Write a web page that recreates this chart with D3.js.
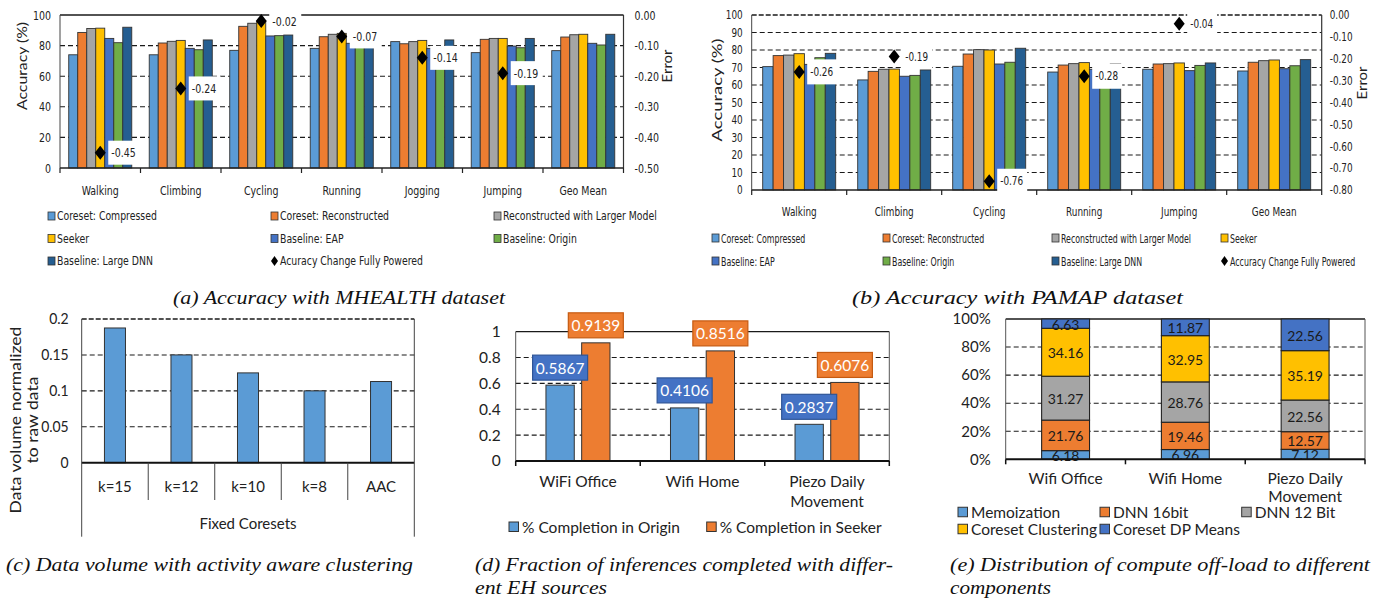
<!DOCTYPE html>
<html><head><meta charset="utf-8">
<script src="https://cdn.jsdelivr.net/npm/d3@7"></script>
<style>body{margin:0;background:#fff} svg{display:block}</style>
</head><body>
<script>
// ---------------- data ----------------
const accSeries = ["Coreset: Compressed","Coreset: Reconstructed","Reconstructed with Larger Model","Seeker","Baseline: EAP","Baseline: Origin","Baseline: Large DNN"];

const mhealthCats = ["Walking","Climbing","Cycling","Running","Jogging","Jumping","Geo Mean"];
const mhCompressed    = [74, 74, 76.9, 78.2, 82.6, 75.4, 76.7];
const mhReconstructed = [88.6, 81.7, 92.6, 85.8, 81.2, 84.1, 85.6];
const mhLarger        = [91.2, 82.8, 94.6, 87.4, 82.6, 84.7, 87.1];
const mhSeeker        = [91.4, 83.4, 96, 88, 83.4, 84.7, 87.4];
const mhEAP           = [84.7, 78.2, 86.3, 81.5, 78.2, 79.7, 81.5];
const mhOrigin        = [81.9, 77.3, 86.5, 80, 76, 78.6, 80.4];
const mhLargeDNN      = [92, 83.7, 86.9, 83, 83.7, 84.7, 87.4];
const mhErr           = [-0.45, -0.24, -0.02, -0.07, -0.14, -0.19, null];
const mhAccTicks = [0, 20, 40, 60, 80, 100];
const mhErrTicks = [0, -0.1, -0.2, -0.3, -0.4, -0.5];

const pamapCats = ["Walking","Climbing","Cycling","Running","Jumping","Geo Mean"];
const paCompressed    = [70.5, 62.9, 70.7, 67.4, 69, 68];
const paReconstructed = [76.8, 67.8, 77.7, 71.4, 72, 73];
const paLarger        = [77.1, 69, 80.2, 72.2, 72.2, 73.9];
const paSeeker        = [77.9, 69.1, 80, 72.8, 72.6, 74.3];
const paEAP           = [71.8, 65, 72, 69, 68.2, 69.3];
const paOrigin        = [75.6, 65.5, 73, 71, 71.2, 71];
const paLargeDNN      = [78.1, 68.6, 81, 72, 72.6, 74.5];
const paErr           = [-0.26, -0.19, -0.76, -0.28, -0.04, null];
const paAccTicks = [0,10,20,30,40,50,60,70,80,90,100];
const paErrTicks = [0,-0.1,-0.2,-0.3,-0.4,-0.5,-0.6,-0.7,-0.8];

const coresetCats = ["k=15","k=12","k=10","k=8","AAC"];
const coresetVolume = [0.1875, 0.15, 0.125, 0.1, 0.113];
const coresetTicks = [0, 0.05, 0.1, 0.15, 0.2];

const ehCats = ["WiFi Office","Wifi Home","Piezo Daily Movement"];
const completionOrigin = [0.5867, 0.4106, 0.2837];
const completionSeeker = [0.9139, 0.8516, 0.6076];
const completionTicks = [0, 0.2, 0.4, 0.6, 0.8, 1];

const offCats = ["Wifi Office","Wifi Home","Piezo Daily Movement"];
const offSeries = ["Memoization","DNN 16bit","DNN 12 Bit","Coreset Clustering","Coreset DP Means"];
const offMemo    = [6.18, 6.96, 7.12];
const offDnn16   = [21.76, 19.46, 12.57];
const offDnn12   = [31.27, 28.76, 22.56];
const offCluster = [34.16, 32.95, 35.19];
const offDP      = [6.63, 11.87, 22.56];
const offTicks = [0, 20, 40, 60, 80, 100];

// ---------------- styles ----------------
const accColors = ["#5B9BD5","#ED7D31","#A5A5A5","#FFC000","#4472C4","#70AD47","#255E91"];
const offColors = ["#5B9BD5","#ED7D31","#A5A5A5","#FFC000","#4472C4"];
const NARROW = "'Liberation Sans Narrow','Arial Narrow','DejaVu Sans Condensed','DejaVu Sans',sans-serif";
const CAL = "Lato,'Open Sans',sans-serif";
const SERIF = "'Liberation Serif','Times New Roman',serif";
const GRID = "#1a1a1a";

const svg = d3.select("body").append("svg").attr("width",1385).attr("height",602);

function diamond(cx, cy, w, h){ return `M${cx},${cy-h}L${cx+w},${cy}L${cx},${cy+h}L${cx-w},${cy}Z`; }
function lines(s){ const w = s.split(" "); return w.length > 2 ? [w.slice(0,2).join(" "), w.slice(2).join(" ")] : [s]; }
function condense(sel, f){
  sel.each(function(){ const n = this.getComputedTextLength(); d3.select(this).attr("textLength", n*f).attr("lengthAdjust","spacingAndGlyphs"); });
}
function rotTitle(g, txt, x, y, len, size, font){
  g.append("text").attr("transform",`translate(${x},${y}) rotate(-90)`)
   .attr("text-anchor","middle").attr("dominant-baseline","central")
   .attr("font-family",font).attr("font-size",size).attr("fill","#222")
   .attr("textLength",len).attr("lengthAdjust","spacingAndGlyphs").text(txt);
}
function caption(lineArr){
  lineArr.forEach(c=>{
    svg.append("text").attr("x",c[1]).attr("y",c[2]).attr("font-family",SERIF)
      .attr("font-style","italic").attr("font-size",18).attr("fill","#111")
      .attr("textLength",c[3]).attr("lengthAdjust","spacingAndGlyphs").text(c[0]);
  });
}
function hgrid(g, y, vals, x0, x1, dash, w){
  g.selectAll(null).data(vals).join("line")
   .attr("x1",x0).attr("x2",x1).attr("y1",d=>y(d)).attr("y2",d=>y(d))
   .attr("stroke",GRID).attr("stroke-width",w||1.1).attr("stroke-dasharray",dash);
}

// ---------------- grouped accuracy panels ----------------
function accuracyPanel(c){
  const g = svg.append("g");
  const x = d3.scaleBand().domain(c.cats).range([c.x0,c.x1]);
  const xi = d3.scaleBand().domain(d3.range(c.series.length)).range([0,x.bandwidth()]).paddingInner(0).paddingOuter(c.po);
  const y = d3.scaleLinear().domain([0,100]).range([c.y1,c.y0]);
  const yr = d3.scaleLinear().domain(c.errDomain).range([c.y1,c.y0]);

  hgrid(g, y, c.accTicks.filter(t=>t>0 && t<100), c.x0, c.x1, "5,3");
  hgrid(g, y, [100], c.x0, c.x1, c.topDash, c.topDash ? 1.6 : 1.3);

  c.series.forEach((vals,si)=>{
    g.selectAll(null).data(vals).join("rect")
     .attr("x",(d,i)=>x(c.cats[i])+xi(si)).attr("width",xi.bandwidth())
     .attr("y",d=>y(d)).attr("height",d=>c.y1-y(d))
     .attr("fill",accColors[si]).attr("stroke","#333").attr("stroke-width",0.9);
  });

  g.append("line").attr("x1",c.x0).attr("x2",c.x0).attr("y1",c.y0).attr("y2",c.y1).attr("stroke","#444").attr("stroke-width",1);
  g.append("line").attr("x1",c.x1).attr("x2",c.x1).attr("y1",c.y0).attr("y2",c.y1).attr("stroke","#333").attr("stroke-width",1.2);
  g.append("line").attr("x1",c.x0).attr("x2",c.x1).attr("y1",c.y1).attr("y2",c.y1).attr("stroke","#222").attr("stroke-width",1.3);
  const bounds = c.cats.map(d=>x(d)).concat([c.x1]);
  g.selectAll(null).data(bounds).join("line").attr("x1",d=>d).attr("x2",d=>d)
   .attr("y1",c.y1).attr("y2",c.y1+5).attr("stroke","#222").attr("stroke-width",1.2);

  const la = g.append("g").attr("transform",`translate(${c.x0},0)`)
    .call(d3.axisLeft(y).tickValues(c.accTicks).tickSize(0).tickPadding(c.lpad).tickFormat(d3.format("d")));
  la.select(".domain").remove();
  la.selectAll("text").attr("font-family",NARROW).attr("font-size",c.fs).attr("fill","#222").call(condense, c.f);
  const ra = g.append("g").attr("transform",`translate(${c.x1},0)`)
    .call(d3.axisRight(yr).tickValues(c.errTicks).tickSize(0).tickPadding(c.rpad).tickFormat(d=>d.toFixed(2)));
  ra.select(".domain").remove();
  ra.selectAll("text").attr("font-family",NARROW).attr("font-size",c.fs).attr("fill","#222").call(condense, c.f);

  g.selectAll(null).data(c.cats).join("text")
   .attr("x",d=>x(d)+x.bandwidth()/2).attr("y",c.y1+c.xlab).attr("text-anchor","middle")
   .attr("font-family",NARROW).attr("font-size",c.fs).attr("fill","#222").text(d=>d).call(condense, c.f);

  const seekerIdx = 3;
  const pts = c.err.map((e,i)=>({e, cx:x(c.cats[i])+xi(seekerIdx)+xi.bandwidth()/2})).filter(d=>d.e!==null);
  g.selectAll(null).data(pts).join("rect")
   .attr("x",d=>d.cx+8).attr("y",d=>yr(d.e)-c.boxH/2).attr("width",c.boxW).attr("height",c.boxH).attr("fill","#fff");
  g.selectAll(null).data(pts).join("text")
   .attr("x",d=>d.cx+11).attr("y",d=>yr(d.e)).attr("dominant-baseline","central")
   .attr("font-family",NARROW).attr("font-size",c.fs).attr("fill","#222").text(d=>d.e.toFixed(2)).call(condense, c.f);
  g.selectAll(null).data(pts).join("path")
   .attr("d",d=>diamond(d.cx,yr(d.e),5.5,7)).attr("fill","#000");

  rotTitle(g,"Accuracy (%)",c.tl[0],c.tl[1],c.tl[2],12.5,CAL);
  rotTitle(g,"Error",c.tr[0],c.tr[1],c.tr[2],12.5,CAL);

  const lg = g.append("g");
  c.legend.forEach((it)=>{
    const [name, col, row] = it;
    const lx = c.legCols[col], ly = c.legRows[row];
    const si = accSeries.indexOf(name);
    if (si >= 0) {
      lg.append("rect").attr("x",lx).attr("y",ly-4).attr("width",7).attr("height",8)
        .attr("fill",accColors[si]).attr("stroke","#333").attr("stroke-width",0.8);
    } else {
      lg.append("path").attr("d",diamond(lx+3.5,ly,3.5,5)).attr("fill","#000");
    }
    lg.append("text").attr("transform",`translate(${lx+9},${ly}) scale(${c.legF},1)`)
      .attr("dominant-baseline","central")
      .attr("font-family",NARROW).attr("font-size",c.legSize).attr("fill","#222").text(name);
  });
}

accuracyPanel({
  cats: mhealthCats,
  series: [mhCompressed, mhReconstructed, mhLarger, mhSeeker, mhEAP, mhOrigin, mhLargeDNN],
  err: mhErr, errDomain: [-0.5, 0], errTicks: mhErrTicks, accTicks: mhAccTicks,
  x0: 60, x1: 623.5, y0: 15, y1: 168, po: 0.97, topDash: null,
  lpad: 9, rpad: 11, xlab: 27, boxW: 32, boxH: 24, fs: 12.5, f: 0.84,
  tl: [22.5, 66, 88], tr: [667.5, 66, 33],
  legCols: [48, 271, 494], legRows: [216, 238.5, 261], legSize: 12.5, legF: 0.83,
  legend: [[accSeries[0],0,0],[accSeries[1],1,0],[accSeries[2],2,0],
           [accSeries[3],0,1],[accSeries[4],1,1],[accSeries[5],2,1],
           [accSeries[6],0,2],["Acuracy Change Fully Powered",1,2]]
});

accuracyPanel({
  cats: pamapCats,
  series: [paCompressed, paReconstructed, paLarger, paSeeker, paEAP, paOrigin, paLargeDNN],
  err: paErr, errDomain: [-0.8, 0], errTicks: paErrTicks, accTicks: paAccTicks,
  x0: 751.7, x1: 1321.7, y0: 15, y1: 190, po: 1.055, topDash: "5,2",
  lpad: 9, rpad: 8, xlab: 26, boxW: 30, boxH: 25, fs: 12, f: 0.82,
  tl: [717, 90, 103], tr: [1362, 83, 33],
  legCols: [712, 883, 1052, 1221], legRows: [238, 261], legSize: 12, legF: 0.73,
  legend: [[accSeries[0],0,0],[accSeries[1],1,0],[accSeries[2],2,0],[accSeries[3],3,0],
           [accSeries[4],0,1],[accSeries[5],1,1],[accSeries[6],2,1],["Accuracy Change Fully Powered",3,1]]
});

caption([["(a) Accuracy with MHEALTH dataset",173,304,332]]);
caption([["(b) Accuracy with PAMAP dataset",852,304,331]]);

// ---------------- panel c ----------------
(function(){
  const g = svg.append("g");
  const x0 = 81.7, x1 = 414.3, y0 = 319, y1 = 462.7;
  const x = d3.scaleBand().domain(coresetCats).range([x0,x1]).paddingInner(0.684).paddingOuter(0.342);
  const xb = d3.scaleBand().domain(coresetCats).range([x0,x1]);
  const y = d3.scaleLinear().domain([0,0.2]).range([y1,y0]);
  hgrid(g, y, coresetTicks.filter(t=>t>0 && t<0.2), x0, x1, "5,3");
  hgrid(g, y, [0.2], x0, x1, "5,2", 1.6);
  g.selectAll(null).data(coresetVolume).join("rect")
   .attr("x",(d,i)=>x(coresetCats[i])).attr("width",x.bandwidth())
   .attr("y",d=>y(d)).attr("height",d=>y1-y(d))
   .attr("fill","#5B9BD5").attr("stroke","#333").attr("stroke-width",1);
  g.append("line").attr("x1",x0).attr("x2",x1).attr("y1",y1).attr("y2",y1).attr("stroke","#111").attr("stroke-width",2);
  g.append("line").attr("x1",x0).attr("x2",x0).attr("y1",y0).attr("y2",536.7).attr("stroke","#444").attr("stroke-width",1);
  g.append("line").attr("x1",x1).attr("x2",x1).attr("y1",y0).attr("y2",536.7).attr("stroke","#444").attr("stroke-width",1);
  g.selectAll(null).data(coresetCats.slice(1)).join("line")
   .attr("x1",d=>xb(d)).attr("x2",d=>xb(d)).attr("y1",y1).attr("y2",500).attr("stroke","#444").attr("stroke-width",1);
  const la = g.append("g").attr("transform",`translate(${x0},0)`)
    .call(d3.axisLeft(y).tickValues(coresetTicks).tickSize(0).tickPadding(13).tickFormat(d=>String(d)));
  la.select(".domain").remove();
  la.selectAll("text").attr("font-family",CAL).attr("font-size",15).attr("fill","#222").call(condense, 0.93);
  g.selectAll(null).data(coresetCats).join("text")
   .attr("x",d=>xb(d)+xb.bandwidth()/2).attr("y",492).attr("text-anchor","middle")
   .attr("font-family",CAL).attr("font-size",15).attr("fill","#222").text(d=>d);
  g.append("text").attr("x",(x0+x1)/2).attr("y",529).attr("text-anchor","middle")
   .attr("font-family",CAL).attr("font-size",15).attr("fill","#222").text("Fixed Coresets");
  rotTitle(g,"Data volume normalized",15,420,187,14.5,CAL);
  rotTitle(g,"to raw data",32.5,420,87,14.5,CAL);
})();
caption([["(c) Data volume with activity aware clustering",6,571,407]]);

// ---------------- panel d ----------------
(function(){
  const g = svg.append("g");
  const x0 = 515.7, x1 = 889.3, y0 = 331.7, y1 = 461;
  const x = d3.scaleBand().domain(ehCats).range([x0,x1]);
  const xi = d3.scaleBand().domain([0,1]).range([0,x.bandwidth()]).paddingInner(0.207).paddingOuter(0.847);
  const y = d3.scaleLinear().domain([0,1]).range([y1,y0]);
  hgrid(g, y, completionTicks.filter(t=>t>0 && t<1), x0, x1, "5,3");
  hgrid(g, y, [1], x0, x1, null, 1.3);
  g.append("line").attr("x1",x0).attr("x2",x0).attr("y1",y0).attr("y2",y1).attr("stroke","#555");
  g.append("line").attr("x1",x1).attr("x2",x1).attr("y1",y0).attr("y2",y1).attr("stroke","#555");
  const sets = [completionOrigin, completionSeeker];
  const fills = ["#5B9BD5","#ED7D31"], boxFill = ["#4472C4","#ED7D31"], boxStroke = ["#2F5597","#C55A11"];
  sets.forEach((vals,si)=>{
    g.selectAll(null).data(vals).join("rect")
     .attr("x",(d,i)=>x(ehCats[i])+xi(si)).attr("width",xi.bandwidth())
     .attr("y",d=>y(d)).attr("height",d=>y1-y(d))
     .attr("fill",fills[si]).attr("stroke","#333").attr("stroke-width",1);
  });
  g.append("line").attr("x1",x0).attr("x2",x1).attr("y1",y1).attr("y2",y1).attr("stroke","#111").attr("stroke-width",2);
  g.selectAll(null).data(ehCats.map(d=>x(d)).concat([x1])).join("line")
   .attr("x1",d=>d).attr("x2",d=>d).attr("y1",y1).attr("y2",y1+5).attr("stroke","#111").attr("stroke-width",1.5);
  sets.forEach((vals,si)=>{
    vals.forEach((v,i)=>{
      const cx = x(ehCats[i])+xi(si)+xi.bandwidth()/2, by = y(v)-5;
      g.append("rect").attr("x",cx-27.5).attr("y",by-25).attr("width",55).attr("height",25)
       .attr("fill",boxFill[si]).attr("stroke",boxStroke[si]).attr("stroke-width",1.2);
      g.append("text").attr("x",cx).attr("y",by-12.5).attr("text-anchor","middle").attr("dominant-baseline","central")
       .attr("font-family",CAL).attr("font-size",15.5).attr("fill","#fff").text(v.toFixed(4));
    });
  });
  const la = g.append("g").attr("transform",`translate(${x0},0)`)
    .call(d3.axisLeft(y).tickValues(completionTicks).tickSize(0).tickPadding(15).tickFormat(d=>String(d)));
  la.select(".domain").remove();
  la.selectAll("text").attr("font-family",CAL).attr("font-size",15.5).attr("fill","#222");
  ehCats.forEach(cat=>{
    lines(cat).forEach((ln,li)=>{
      g.append("text").attr("x",x(cat)+x.bandwidth()/2).attr("y",487+li*20).attr("text-anchor","middle")
       .attr("font-family",CAL).attr("font-size",15.5).attr("fill","#222").text(ln);
    });
  });
  const legNames = ["% Completion in Origin","% Completion in Seeker"], legX = [509, 706.7];
  legNames.forEach((n,i)=>{
    g.append("rect").attr("x",legX[i]).attr("y",522).attr("width",9.5).attr("height",9.5)
     .attr("fill",fills[i]).attr("stroke","#333").attr("stroke-width",1);
    g.append("text").attr("x",legX[i]+13).attr("y",527).attr("dominant-baseline","central")
     .attr("font-family",CAL).attr("font-size",15.5).attr("fill","#222").text(n);
  });
})();
caption([["(d) Fraction of inferences completed with differ-",475,571,418],["ent EH sources",475,594,132]]);

// ---------------- panel e ----------------
(function(){
  const g = svg.append("g");
  const x0 = 1005.7, x1 = 1365, y0 = 319, y1 = 459.3;
  const x = d3.scaleBand().domain(offCats).range([x0,x1]).paddingInner(0.6).paddingOuter(0.3);
  const xb = d3.scaleBand().domain(offCats).range([x0,x1]);
  const y = d3.scaleLinear().domain([0,100]).range([y1,y0]);
  hgrid(g, y, offTicks.filter(t=>t>0 && t<100), x0, x1, "5,3");
  hgrid(g, y, [100], x0, x1, null, 1.3);
  g.append("line").attr("x1",x0).attr("x2",x0).attr("y1",y0).attr("y2",y1).attr("stroke","#555");
  g.append("line").attr("x1",x1).attr("x2",x1).attr("y1",y0).attr("y2",y1).attr("stroke","#555");
  const rows = offCats.map((c,i)=>({cat:c, s0:offMemo[i], s1:offDnn16[i], s2:offDnn12[i], s3:offCluster[i], s4:offDP[i]}));
  const stack = d3.stack().keys(["s0","s1","s2","s3","s4"])(rows);
  stack.forEach((layer,li)=>{
    g.selectAll(null).data(layer).join("rect")
     .attr("x",d=>x(d.data.cat)).attr("width",x.bandwidth())
     .attr("y",d=>y(d[1])).attr("height",d=>y(d[0])-y(d[1]))
     .attr("fill",offColors[li]).attr("stroke","#222").attr("stroke-width",1.1);
  });
  stack.forEach((layer,li)=>{
    g.selectAll(null).data(layer).join("text")
     .attr("x",d=>x(d.data.cat)+x.bandwidth()/2).attr("y",d=>(y(d[0])+y(d[1]))/2+0.5)
     .attr("text-anchor","middle").attr("dominant-baseline","central")
     .attr("font-family",CAL).attr("font-size",14).attr("fill","#1a1a1a")
     .text(d=>(d[1]-d[0]).toFixed(2));
  });
  g.append("line").attr("x1",x0).attr("x2",x1).attr("y1",y1).attr("y2",y1).attr("stroke","#111").attr("stroke-width",2);
  g.selectAll(null).data(offCats.map(d=>xb(d)).concat([x1])).join("line")
   .attr("x1",d=>d).attr("x2",d=>d).attr("y1",y1).attr("y2",y1+5).attr("stroke","#111").attr("stroke-width",1.5);
  const la = g.append("g").attr("transform",`translate(${x0},0)`)
    .call(d3.axisLeft(y).tickValues(offTicks).tickSize(0).tickPadding(15).tickFormat(d=>d+"%"));
  la.select(".domain").remove();
  la.selectAll("text").attr("font-family",CAL).attr("font-size",15).attr("fill","#222");
  offCats.forEach(cat=>{
    lines(cat).forEach((ln,li)=>{
      g.append("text").attr("x",xb(cat)+xb.bandwidth()/2).attr("y",484+li*17.5).attr("text-anchor","middle")
       .attr("font-family",CAL).attr("font-size",15.5).attr("fill","#222").text(ln);
    });
  });
  const legCols = [958, 1100, 1241.7], legRows = [512, 529];
  offSeries.forEach((n,i)=>{
    const lx = legCols[i%3], ly = legRows[Math.floor(i/3)];
    g.append("rect").attr("x",lx).attr("y",ly-4.75).attr("width",9.5).attr("height",9.5)
     .attr("fill",offColors[i]).attr("stroke","#333").attr("stroke-width",1);
    g.append("text").attr("x",lx+13).attr("y",ly).attr("dominant-baseline","central")
     .attr("font-family",CAL).attr("font-size",15.5).attr("fill","#222").text(n);
  });
})();
caption([["(e) Distribution of compute off-load to different",950,571,420],["components",950,594,101]]);
</script>
</body></html>
